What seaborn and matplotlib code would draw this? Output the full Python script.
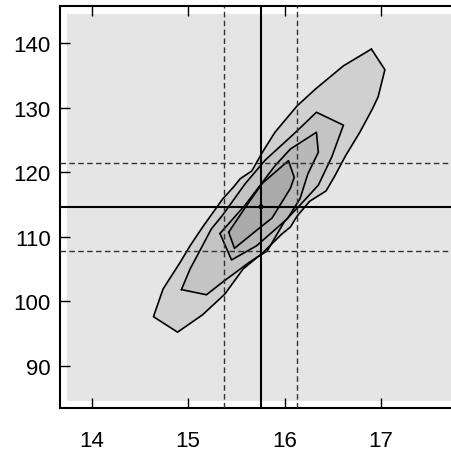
import matplotlib
matplotlib.use("Agg")
import matplotlib.pyplot as plt
import seaborn as sns
import pandas as pd
from matplotlib.patches import Rectangle

sns.set_theme(style="ticks")
plt.rcParams["font.family"] = ["Liberation Sans", "DejaVu Sans"]

# Joint density contours, outermost level first
level1_x = [16.90, 17.04, 16.97, 16.91, 16.78, 16.63, 16.52, 16.43, 16.26, 16.13,
            16.06, 15.97, 15.78, 15.57, 15.38, 15.15, 14.89, 14.64, 14.74, 14.92,
            15.02, 15.15, 15.36, 15.47, 15.54, 15.66, 15.77, 15.90, 16.13, 16.32, 16.61]
level1_y = [139.1, 135.9, 131.7, 129.8, 126.2, 122.5, 119.4, 117.1, 115.5, 113.2,
            111.5, 110.4, 107.6, 105.0, 101.1, 97.9, 95.2, 97.6, 101.9, 106.1,
            108.6, 111.5, 115.9, 117.7, 119.0, 120.2, 123.1, 126.2, 130.3, 132.9, 136.5]

level2_x = [14.93, 15.19, 15.36, 15.64, 15.82, 16.00, 16.16, 16.35, 16.49, 16.61,
            16.33, 16.10, 15.80, 15.59, 15.36, 15.24, 15.12, 15.02]
level2_y = [101.8, 101.0, 103.0, 106.1, 107.8, 112.4, 114.9, 118.0, 122.4, 127.3,
            129.3, 126.0, 121.9, 118.2, 113.4, 111.2, 107.8, 105.0]

level3_x = [15.33, 15.45, 15.71, 16.03, 16.16, 16.24, 16.35, 16.33, 16.06, 15.90, 15.59]
level3_y = [110.5, 106.4, 108.6, 112.8, 115.9, 119.7, 123.1, 126.2, 123.6, 121.0, 114.9]

level4_x = [15.42, 15.48, 15.71, 15.87, 16.06, 16.10, 16.04, 15.77, 15.59]
level4_y = [110.7, 108.2, 111.0, 112.9, 117.5, 119.2, 121.8, 118.3, 114.5]

levels_x = [level1_x, level2_x, level3_x, level4_x]
levels_y = [level1_y, level2_y, level3_y, level4_y]
level_fills = ["#d0d0d0", "#c4c4c4", "#b8b8b8", "#ababab"]

# Central estimate and one-sigma band
x_center, y_center = 15.755, 114.65
x_band = [15.37, 16.13]
y_band = [107.8, 121.5]

x_ticks = [14, 15, 16, 17]
y_ticks = [90, 100, 110, 120, 130, 140]

# Shaded region covered by the density grid
panel_x = (13.74, 18.5)
panel_y = (84.57, 144.54)

fig = plt.figure(figsize=(4.51, 4.56), dpi=100)
ax = fig.add_axes([60 / 451, 47 / 456, 395 / 451, 402 / 456])
ax.set_xlim(13.671, 17.767)
ax.set_ylim(83.44, 145.78)

ax.add_patch(Rectangle((panel_x[0], panel_y[0]), panel_x[1] - panel_x[0],
                       panel_y[1] - panel_y[0], facecolor="#e5e5e5",
                       edgecolor="none", zorder=0))

for xs, ys, fc in zip(levels_x, levels_y, level_fills):
    ax.fill(xs, ys, facecolor=fc, edgecolor="none", zorder=1)
    outline = pd.DataFrame({"x": xs + xs[:1], "y": ys + ys[:1]})
    sns.lineplot(data=outline, x="x", y="y", sort=False, estimator=None,
                 color="black", linewidth=1.2, ax=ax, zorder=2)

for xv in x_band:
    ax.axvline(xv, color="#333333", linewidth=1.0, dashes=(4.0, 2.4), zorder=3)
for yv in y_band:
    ax.axhline(yv, color="#333333", linewidth=1.0, dashes=(4.0, 2.4), zorder=3)
ax.axvline(x_center, color="black", linewidth=1.5, zorder=4)
ax.axhline(y_center, color="black", linewidth=1.5, zorder=4)

center = pd.DataFrame({"x": [x_center], "y": [y_center]})
sns.scatterplot(data=center, x="x", y="y", color="black", s=14,
                edgecolor="none", ax=ax, zorder=5)

ax.set_xticks(x_ticks)
ax.set_yticks(y_ticks)
ax.set_xlabel("")
ax.set_ylabel("")
ax.tick_params(axis="both", direction="in", length=7, width=1,
               color="black", labelsize=16, labelcolor="black")
ax.tick_params(axis="x", top=True, bottom=True, pad=16)
ax.tick_params(axis="y", left=True, right=False, pad=6.5)
for side in ["left", "bottom", "top", "right"]:
    ax.spines[side].set_linewidth(1.5)
    ax.spines[side].set_color("black")

fig.savefig("out.png", dpi=100, facecolor="white")
